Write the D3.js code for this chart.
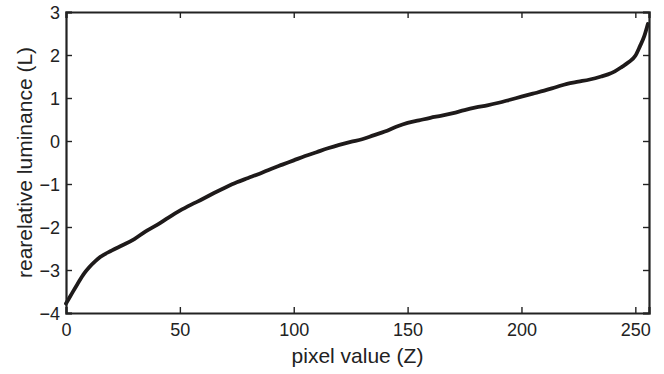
<!DOCTYPE html>
<html>
<head>
<meta charset="utf-8">
<script src="https://cdn.jsdelivr.net/npm/d3@7"></script>
<style>
  html, body { margin: 0; padding: 0; background: #fff; }
  svg { display: block; }
  text { font-family: "Liberation Sans", Arial, Helvetica, sans-serif; fill: #222; }
</style>
</head>
<body>
<svg id="chart" width="664" height="374"></svg>
<script>
// Data
const pixelValues = [0, 2, 5, 8, 10, 13, 15, 20, 25, 30, 35, 40, 45, 50, 55, 60, 65, 70, 75, 80,
  85, 90, 95, 100, 105, 110, 115, 120, 125, 130, 135, 140, 145, 150, 155, 160, 165, 170, 175, 180,
  185, 190, 195, 200, 205, 210, 215, 220, 225, 230, 235, 238, 241, 244, 247, 250, 252, 254, 255.5];
const luminance = [-3.78, -3.60, -3.33, -3.08, -2.95, -2.79, -2.70, -2.55, -2.42, -2.28, -2.10, -1.95, -1.78, -1.62, -1.48, -1.35, -1.21, -1.08, -0.96, -0.86,
  -0.76, -0.65, -0.55, -0.45, -0.35, -0.26, -0.17, -0.09, -0.02, 0.04, 0.13, 0.22, 0.33, 0.42, 0.48, 0.54, 0.59, 0.65, 0.72, 0.78,
  0.83, 0.89, 0.96, 1.03, 1.10, 1.17, 1.25, 1.33, 1.38, 1.43, 1.50, 1.55, 1.62, 1.72, 1.83, 1.98, 2.20, 2.45, 2.72];
const xTicks = [0, 50, 100, 150, 200, 250];
const yTicks = [-4, -3, -2, -1, 0, 1, 2, 3];
const xLabel = "pixel value (Z)";
const yLabel = "rearelative luminance (L)";

const svg = d3.select("#chart");
const margin = { left: 66, top: 12, right: 15, bottom: 61 };
const W = 664, H = 374;
const x = d3.scaleLinear().domain([0, 256]).range([margin.left, W - margin.right]);
const y = d3.scaleLinear().domain([-4, 3]).range([H - margin.bottom, margin.top]);

const axisColor = "#222";
const tickLen = 6;

// Curve
const line = d3.line().x((d, i) => x(pixelValues[i])).y(d => y(d)).curve(d3.curveMonotoneX);
svg.append("path")
  .datum(luminance)
  .attr("d", line)
  .attr("fill", "none")
  .attr("stroke", "#1e1a1a")
  .attr("stroke-width", 3.8)
  .attr("stroke-linejoin", "round")
  .attr("stroke-linecap", "round");

// Axes (inward ticks, mirrored box)
const gx = svg.append("g").attr("transform", `translate(0,${y(-4)})`)
  .call(d3.axisBottom(x).tickValues(xTicks).tickSize(-tickLen).tickPadding(10).tickFormat(d3.format("d")));
const gxTop = svg.append("g").attr("transform", `translate(0,${y(3)})`)
  .call(d3.axisTop(x).tickValues(xTicks).tickSize(-tickLen).tickFormat(""));
const gy = svg.append("g").attr("transform", `translate(${x(0)},0)`)
  .call(d3.axisLeft(y).tickValues(yTicks).tickSize(-tickLen).tickPadding(6).tickFormat(d3.format("d")));
const gyRight = svg.append("g").attr("transform", `translate(${x(256)},0)`)
  .call(d3.axisRight(y).tickValues(yTicks).tickSize(-tickLen).tickFormat(""));

[gx, gxTop, gy, gyRight].forEach(g => {
  g.select(".domain").attr("stroke", axisColor).attr("stroke-width", 2.2);
  g.selectAll(".tick line").attr("stroke", axisColor).attr("stroke-width", 1.4);
  g.selectAll(".tick text").attr("fill", "#222").style("font-size", "18px")
    .style("font-family", '"Liberation Sans", Arial, sans-serif');
});
gx.selectAll(".tick text").attr("dy", "0.71em");
gy.selectAll(".tick text").attr("dy", "0.36em");

// Labels
svg.append("text")
  .attr("x", (x(0) + x(256)) / 2)
  .attr("y", 363)
  .attr("text-anchor", "middle")
  .style("font-size", "21px")
  .text(xLabel);

svg.append("text")
  .attr("transform", `translate(32,${(y(3) + y(-4)) / 2}) rotate(-90)`)
  .attr("text-anchor", "middle")
  .style("font-size", "21px")
  .text(yLabel);
</script>
</body>
</html>
